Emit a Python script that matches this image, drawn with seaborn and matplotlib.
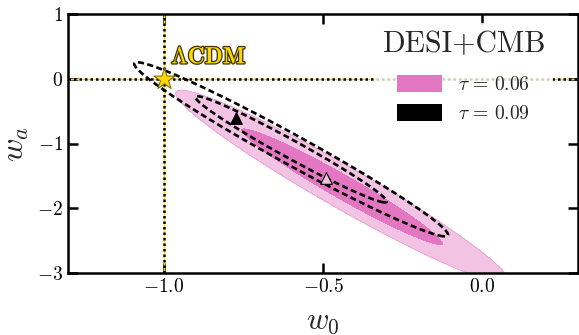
import numpy as np
import matplotlib
matplotlib.use('Agg')
import matplotlib.pyplot as plt
import seaborn as sns
import pandas as pd
import matplotlib.patheffects as pe
from matplotlib.patches import Patch

# ---------------- data ----------------
w0_limits = [-1.3, 0.3]
wa_limits = [-3.0, 1.0]
x_ticks = [-1.0, -0.5, 0.0]
x_tick_labels = ['$-1.0$', '$-0.5$', '$0.0$']
y_ticks = [-3, -2, -1, 0, 1]
y_tick_labels = ['$-3$', '$-2$', '$-1$', '$0$', '$1$']

series = [r'$\tau\,=\,0.06$', r'$\tau\,=\,0.09$']
# Gaussian summaries of the two posteriors
mean_w0 = [-0.44, -0.60]
mean_wa = [-1.668, -1.09]
sigma_w0 = [0.21, 0.198]
slope_wa_w0 = [-2.765, -2.68]
sigma_wa_cond = [0.15, 0.105]
dchi2_levels = [2.30, 6.18]          # 68% and 95%

marker_w0 = [-0.774, -0.49]
marker_wa = [-0.60, -1.53]
lcdm_w0 = [-1.0]
lcdm_wa = [0.0]

# ---------------- style ----------------
sns.set_theme(style='ticks')
plt.rcParams['font.family'] = ['cmr10', 'DejaVu Serif']
plt.rcParams['mathtext.fontset'] = 'cm'
plt.rcParams['axes.formatter.use_mathtext'] = True
plt.rcParams['lines.dashed_pattern'] = [2.3, 1.3]

pink_dark = '#e377c2'
pink_light = '#f3c3e4'

fig = plt.figure(figsize=(5.79, 3.35), dpi=100)
ax = fig.add_axes([68/579, 1-273/335, 510/579, 259/335])

g0 = np.linspace(w0_limits[0], w0_limits[1], 600)
ga = np.linspace(wa_limits[0], wa_limits[1], 600)
W0, WA = np.meshgrid(g0, ga)

def chi2(i):
    d0 = (W0 - mean_w0[i]) / sigma_w0[i]
    da = (WA - mean_wa[i] - slope_wa_w0[i] * (W0 - mean_w0[i])) / sigma_wa_cond[i]
    return d0**2 + da**2

ax.contourf(W0, WA, chi2(0), levels=[0, dchi2_levels[0], dchi2_levels[1]],
            colors=[pink_dark, pink_light], zorder=1)
ax.contour(W0, WA, chi2(0), levels=[dchi2_levels[1]], colors=['#eaa2d6'],
           linewidths=0.6, zorder=1)
ax.contour(W0, WA, chi2(1), levels=dchi2_levels, colors='black',
           linestyles='--', linewidths=1.9, zorder=3)

# reference lines
ax.axvline(lcdm_w0[0], color='gold', lw=1.0, zorder=2)
ax.axvline(lcdm_w0[0], color='black', ls=(0, (1, 1.2)), lw=1.8, zorder=2)
ax.axhline(lcdm_wa[0], color='gold', lw=1.0, zorder=2)
ax.axhline(lcdm_wa[0], color='black', ls=(0, (1, 1.2)), lw=1.8, zorder=2)

# markers
mk = pd.DataFrame({'w0': marker_w0, 'wa': marker_wa, 'kind': series})
sns.scatterplot(data=mk.iloc[[0]], x='w0', y='wa', marker='^', s=70,
                color='black', edgecolor='black', linewidth=0.8, ax=ax,
                zorder=5, legend=False)
sns.scatterplot(data=mk.iloc[[1]], x='w0', y='wa', marker='^', s=70,
                color=pink_light, edgecolor='black', linewidth=0.8, ax=ax,
                zorder=5, legend=False)
sns.scatterplot(x=lcdm_w0, y=lcdm_wa, marker='*', s=260, color='gold',
                edgecolor='#7a6000', linewidth=0.7, ax=ax, zorder=6, legend=False)
ax.text(lcdm_w0[0] + 0.024, lcdm_wa[0] + 0.33, r'$\mathbf{\Lambda CDM}$',
        color='gold', fontsize=17, ha='left', va='center', zorder=6,
        path_effects=[pe.withStroke(linewidth=1.8, foreground='#3a3000')])

ax.set_xlim(w0_limits)
ax.set_ylim(wa_limits)
ax.set_xticks(x_ticks)
ax.set_xticklabels(x_tick_labels)
ax.set_yticks(y_ticks)
ax.set_yticklabels(y_tick_labels)
ax.tick_params(direction='in', length=7, width=1.8, labelsize=14,
               top=True, right=True, pad=3.5, colors='black')
for s in ax.spines.values():
    s.set_linewidth(1.8)
    s.set_color('black')
ax.set_xlabel(r'$w_0$', fontsize=22, labelpad=9)
ax.set_ylabel(r'$w_a$', fontsize=23, labelpad=4)

handles = [Patch(facecolor=pink_dark, edgecolor='none'),
           Patch(facecolor='black', edgecolor='none')]
leg = ax.legend(handles, series, title='DESI+CMB', loc='upper right',
                bbox_to_anchor=(0.951, 0.965), borderaxespad=0,
                fontsize=14, title_fontsize=21.5, frameon=True,
                framealpha=0.8, edgecolor='none', fancybox=False,
                handlelength=2.3, handleheight=1.0, labelspacing=0.5,
                handletextpad=0.8)
leg.get_frame().set_linewidth(0)
leg._legend_box.sep = 12
leg.set_zorder(7)

fig.savefig('out.png', dpi=100)
